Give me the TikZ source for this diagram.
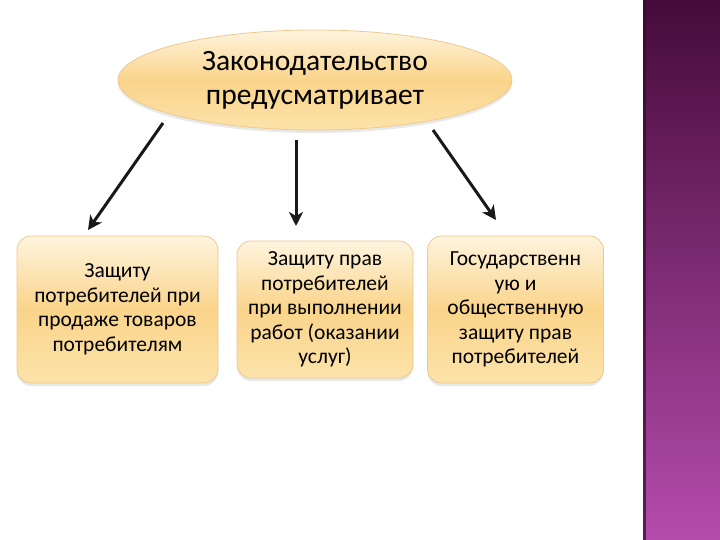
\documentclass[tikz,border=0pt]{standalone}
\usepackage{fontspec}
\setmainfont{Carlito}
\usetikzlibrary{arrows.meta,shapes.geometric,shadows}
\definecolor{boxtop}{HTML}{FEF4DE}
\definecolor{boxmid}{HTML}{FAD48A}
\definecolor{boxbot}{HTML}{FCE3AA}
\definecolor{boxline}{HTML}{EEC98E}
\definecolor{barTop}{HTML}{460B3A}
\definecolor{barBot}{HTML}{B44CAC}
\tikzset{
  leaf/.style={rectangle, rounded corners=14pt, draw=boxline, line width=0.8pt,
    top color=boxtop, bottom color=boxbot, middle color=boxmid,
    align=center, font=\fontsize{21.5}{24.5}\selectfont, inner sep=0pt,
    drop shadow={opacity=0.18, shadow xshift=0pt, shadow yshift=-3pt}},
  root/.style={ellipse, draw=boxline, line width=0.8pt,
    top color=boxtop, bottom color=boxbot, middle color=boxmid,
    align=center, font=\fontsize{29.5}{34}\selectfont, inner sep=0pt,
    drop shadow={opacity=0.18, shadow xshift=0pt, shadow yshift=-3pt}},
  arr/.style={line width=3pt, draw=black!90, -{Stealth[length=14pt,width=14pt,inset=4pt]}}
}
\begin{document}
\begin{tikzpicture}[x=1pt,y=-1pt]
\useasboundingbox (0,0) rectangle (720,540);
\fill[white] (0,0) rectangle (720,540);
% purple side bar
\shade[top color=barTop, bottom color=barBot] (643,0) rectangle (720,540);
\fill[barTop!80!black, opacity=0.7] (643,0) rectangle (646,540);
% root ellipse
\node[root, minimum width=394pt, minimum height=100pt] (top) at (315,80)
  {Законодательство\\предусматривает};
% boxes
\node[leaf, minimum width=201pt, minimum height=147pt] (b1) at (117.5,309.5)
  {Защиту\\потребителей при\\продаже товаров\\потребителям};
\node[leaf, minimum width=176pt, minimum height=137pt] (b2) at (325,309.5)
  {Защиту прав\\потребителей\\при выполнении\\работ (оказании\\услуг)};
\node[leaf, minimum width=176pt, minimum height=147pt] (b3) at (515.5,309.5)
  {Государственн\\ую и\\общественную\\защиту прав\\потребителей};
% arrow ends
\coordinate (s1) at (163,123);
\coordinate (e1) at (88,230);
\coordinate (s2) at (296,140);
\coordinate (e2) at (296,226);
\coordinate (s3) at (433,130);
\coordinate (e3) at (496,220);
\draw[arr] (s1) -- (e1);
\draw[arr] (s2) -- (e2);
\draw[arr] (s3) -- (e3);
\end{tikzpicture}
\end{document}
